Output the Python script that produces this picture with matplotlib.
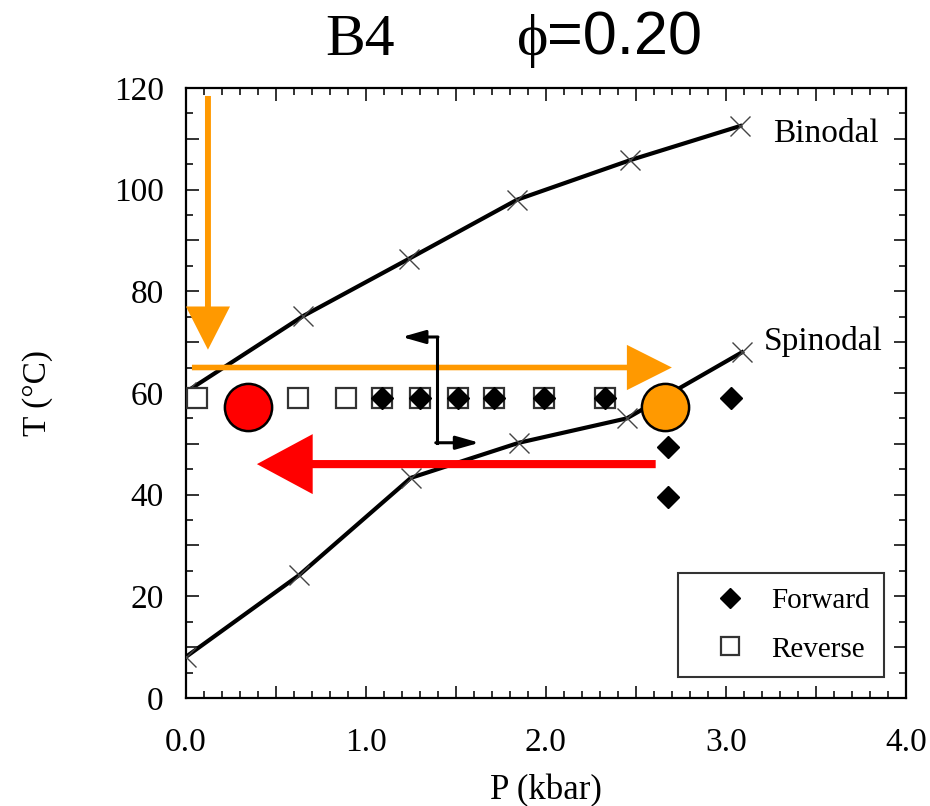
import matplotlib
matplotlib.use("Agg")
import matplotlib.pyplot as plt
import numpy as np
from matplotlib.ticker import MultipleLocator

# Binodal and spinodal curves (P in kbar, T in °C)
binodal_p = [0.0, 0.65, 1.24, 1.84, 2.47, 3.08]
binodal_t = [60.2, 75.1, 86.4, 98.0, 105.8, 112.5]
spinodal_p = [0.0, 0.63, 1.25, 1.85, 2.45, 3.09]
spinodal_t = [8.1, 24.2, 43.3, 50.2, 55.0, 68.0]

# Forward (filled diamonds) and reverse (open squares) runs
forward_p = [1.09, 1.30, 1.51, 1.71, 1.99, 2.33, 2.68, 3.03, 2.68, 2.68]
forward_t = [59.0, 59.0, 59.0, 59.0, 59.0, 59.0, 59.0, 59.0, 49.4, 39.5]
reverse_p = [0.06, 0.62, 0.89, 1.09, 1.30, 1.51, 1.71, 1.99, 2.33]
reverse_t = [59.0, 59.0, 59.0, 59.0, 59.0, 59.0, 59.0, 59.0, 59.0]

# Highlight circles
circle_p = [0.345, 2.66]
circle_t = [57.2, 57.2]
circle_colors = ["#ff0000", "#ff9900"]

serif = "Liberation Serif"
orange = "#ff9900"

fig = plt.figure(figsize=(9.3, 8.06), dpi=100)
ax = fig.add_axes([0.2, 0.134, 0.774, 0.757])

ax.plot(binodal_p, binodal_t, color="black", lw=3.0, zorder=3)
ax.plot(binodal_p, binodal_t, ls="none", marker="x", ms=15, mew=1.0, color="#444444", zorder=4)
ax.plot(spinodal_p, spinodal_t, color="black", lw=3.0, zorder=3)
ax.plot(spinodal_p, spinodal_t, ls="none", marker="x", ms=15, mew=1.0, color="#444444", zorder=4)

sq, = ax.plot(reverse_p, reverse_t, ls="none", marker="s", ms=14, mfc="white",
              mec="#333333", mew=1.6, zorder=5)
fw, = ax.plot(forward_p, forward_t, ls="none", marker="D", ms=11, color="black", zorder=6)

for p, t, c in zip(circle_p, circle_t, circle_colors):
    ax.plot(p, t, marker="o", ms=34, mfc=c, mec="black", mew=1.8, zorder=8, ls="none")

# Orange arrows (vertical cooling, then horizontal compression)
ax.arrow(0.033, 65.0, 2.70 - 0.033, 0, width=1.1, head_width=8.9, head_length=0.25,
         length_includes_head=True, color=orange, lw=0, zorder=7)
ax.arrow(0.122, 118.4, 0, 68.5 - 118.4, width=0.033, head_width=0.245, head_length=8.5,
         length_includes_head=True, color=orange, lw=0, zorder=7)
# Red arrow (decompression)
ax.arrow(2.61, 46.0, 0.394 - 2.61, 0, width=1.6, head_width=11.8, head_length=0.31,
         length_includes_head=True, color="#ff0000", lw=0, zorder=7)

# Black bracket arrow
ax.plot([1.394, 1.394], [71.0, 50.2], color="black", lw=2.2, zorder=7)
ax.annotate("", xy=(1.20, 71.0), xytext=(1.40, 71.0),
            arrowprops=dict(arrowstyle="-|>,head_length=1.4,head_width=0.4",
                            color="black", lw=2.2, shrinkA=0, shrinkB=0), zorder=7)
ax.annotate("", xy=(1.63, 50.2), xytext=(1.388, 50.2),
            arrowprops=dict(arrowstyle="-|>,head_length=1.4,head_width=0.4",
                            color="black", lw=2.2, shrinkA=0, shrinkB=0), zorder=7)

ax.text(3.26, 109.4, "Binodal", family=serif, fontsize=24, va="baseline")
ax.text(3.21, 68.5, "Spinodal", family=serif, fontsize=24, va="baseline")

ax.set_xlim(0, 4.0)
ax.set_ylim(0, 120)
ax.xaxis.set_minor_locator(MultipleLocator(0.1))
ax.yaxis.set_minor_locator(MultipleLocator(5))
ax.set_xticks(np.arange(0, 4.01, 0.5))
ax.set_xticklabels(["0.0", "", "1.0", "", "2.0", "", "3.0", "", "4.0"])
ax.set_yticks(np.arange(0, 121, 10))
ax.set_yticklabels(["0", "", "20", "", "40", "", "60", "", "80", "", "100", "", "120"])
ax.tick_params(which="both", direction="in", top=True, right=True, color="#222222")
ax.tick_params(which="major", length=9, width=1.3)
ax.tick_params(which="minor", length=5, width=1.3)
ax.tick_params(axis="x", which="major", pad=21)
ax.tick_params(axis="y", which="major", pad=16)
for lab in ax.get_xticklabels() + ax.get_yticklabels():
    lab.set_family(serif)
    lab.set_fontsize(24)
for s in ax.spines.values():
    s.set_linewidth(1.6)

ax.set_xlabel("P (kbar)", family=serif, fontsize=25, labelpad=12)
ax.set_ylabel("T (°C)", family=serif, fontsize=24, labelpad=44)

leg = ax.legend([fw, sq], ["Forward", "Reverse"], loc="upper left",
                bbox_to_anchor=(0.683, 0.205), prop={"family": serif, "size": 21},
                frameon=True, fancybox=False, edgecolor="black", borderpad=0.5,
                labelspacing=0.76, handletextpad=0.1, handlelength=2.6,
                borderaxespad=0, markerscale=0.95)
leg.get_frame().set_linewidth(1.5)
leg.set_zorder(9)

fig.text(0.3495, 0.932, "B4", family=serif, fontsize=43, ha="left", va="baseline")
fig.text(0.556, 0.932, "\u03d5", family=serif, fontsize=43, ha="left", va="baseline")
fig.text(0.588, 0.932, "=0.20", family="Liberation Sans", fontsize=44, ha="left", va="baseline")

fig.savefig("out.png", dpi=100)
